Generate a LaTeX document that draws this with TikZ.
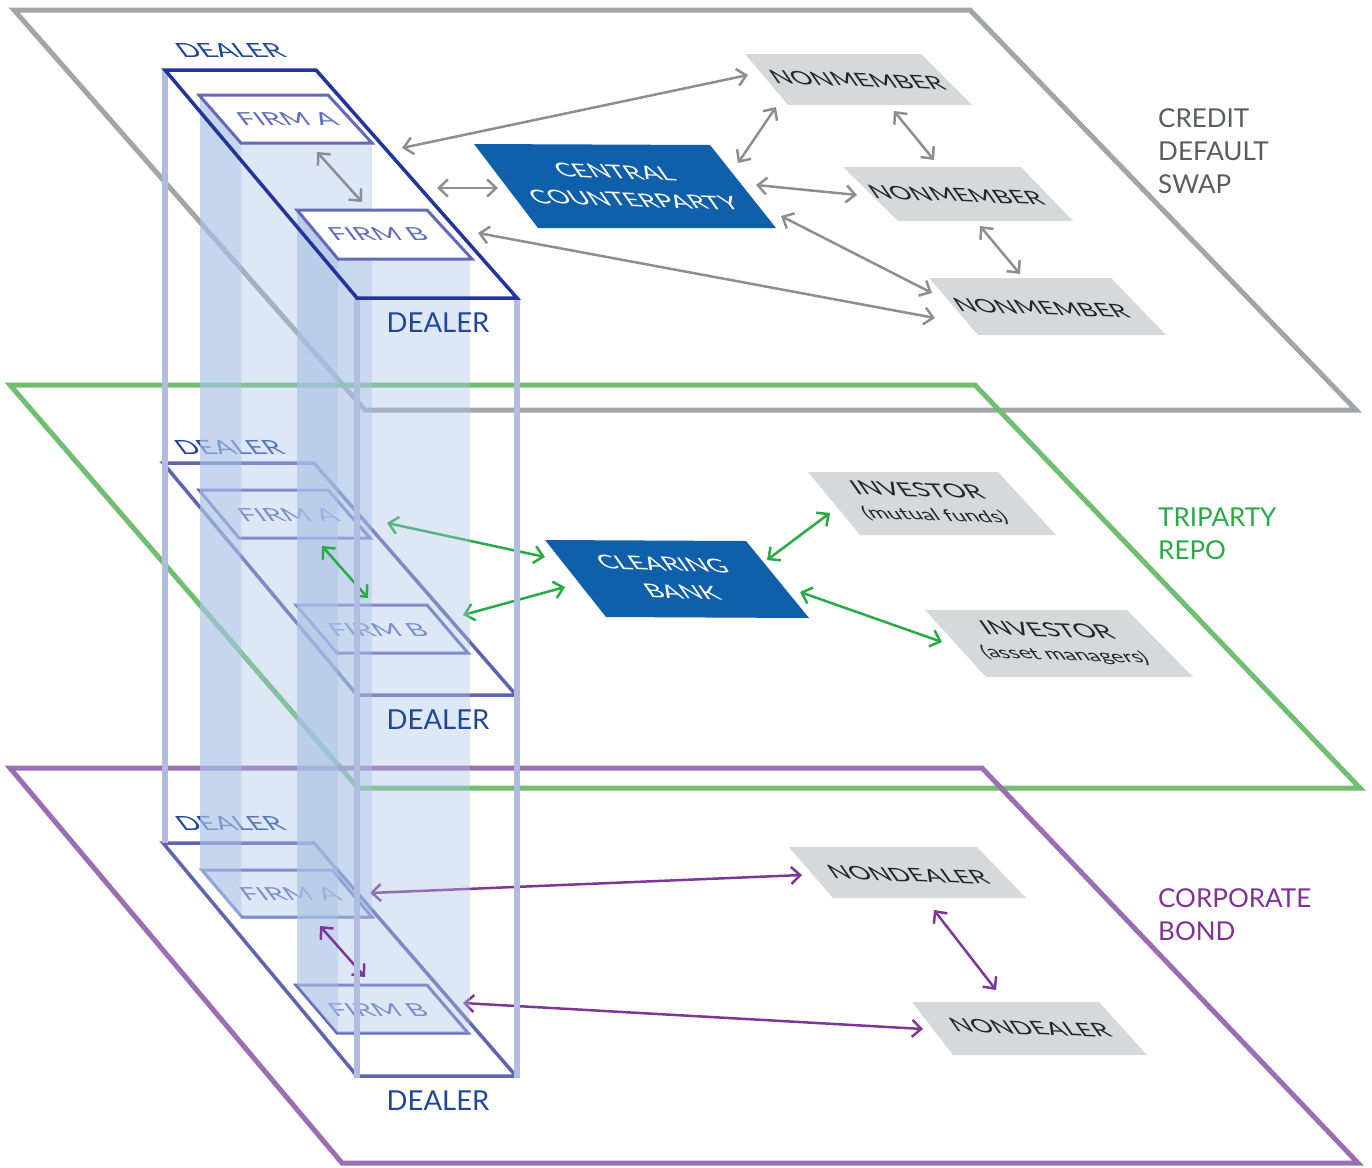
\documentclass[tikz,border=0pt]{standalone}
\usepackage{fontspec}
\setmainfont{Lato}
\usetikzlibrary{arrows.meta}
\definecolor{planegray}{RGB}{162,164,168}
\definecolor{planegreen}{RGB}{112,190,112}
\definecolor{planepurple}{RGB}{155,110,180}
\definecolor{navyedge}{RGB}{35,52,154}
\definecolor{dealerblue}{RGB}{95,100,175}
\definecolor{firmblue}{RGB}{100,105,185}
\definecolor{firmtxt}{RGB}{95,110,190}
\definecolor{labelblue}{RGB}{30,70,158}
\definecolor{colblue}{RGB}{170,195,230}
\definecolor{vline}{RGB}{178,188,224}
\definecolor{boxgray}{RGB}{215,216,218}
\definecolor{ccpblue}{RGB}{15,95,171}
\definecolor{arrgray}{RGB}{140,142,146}
\definecolor{arrgreen}{RGB}{40,170,70}
\definecolor{arrpurple}{RGB}{125,55,150}
\definecolor{txtgray}{RGB}{90,92,98}
\definecolor{txtgreen}{RGB}{40,170,70}
\definecolor{txtpurple}{RGB}{130,50,150}
\tikzset{barb/.tip={Straight Barb[length=9pt,width=17pt]}}
\newcommand\ptext[6]{\begin{scope}[shift={(#1,#2)},#3]\node[transform shape,inner sep=0pt,align=center,#5] (#4) at (0,0) {#6};\end{scope}}
\begin{document}
\begin{tikzpicture}[x=1pt,y=-1pt,
  plane/.style={line width=5pt,line join=miter},
  dealeredge/.style={line width=3.5pt,line join=miter},
  firmbox/.style={draw=firmblue,line width=3pt,fill=white,line join=miter},
  colleft/.style={fill=colblue,fill opacity=0.68},
  colfront/.style={fill=colblue,fill opacity=0.4},
  vertline/.style={draw=vline,line width=5.5pt},
  graybox/.style={fill=boxgray},
  bluebox/.style={fill=ccpblue},
  onplane/.style={xslant=-0.75,yscale=0.7},
  firmplane/.style={xslant=-0.75,yscale=0.62},
  boxtext/.style={text=black!85,font=\fontsize{26}{36}\selectfont},
  whitetext/.style={text=white,font=\fontsize{26.5}{39}\selectfont},
  firmtext/.style={text=firmtxt,font=\fontsize{29}{36}\selectfont},
  dealertop/.style={text=labelblue,font=\fontsize{28}{36}\selectfont},
  dealerlabel/.style={text=labelblue,font=\fontsize{27.5}{33}\selectfont,anchor=base,inner sep=0pt},
  sidelabel/.style={font=\fontsize{26}{33}\selectfont,anchor=north west,align=left,inner sep=0pt},
  link/.style={line width=2.5pt,arrows={barb-barb}},
]
\fill[white] (0,0) rectangle (1372,1167);
\useasboundingbox (0,0) rectangle (1372,1167);

% ---------- planes ----------
\draw[plane,planegray] (14,10) -- (970,10) -- (1356,410) -- (365,410) -- cycle;
\draw[plane,planegreen] (10,385) -- (975,385) -- (1360,788) -- (358,788) -- cycle;
\draw[plane,planepurple] (10,768) -- (982,768) -- (1358,1163) -- (342,1163) -- cycle;

% ---------- level 2 (triparty repo) dealer ----------
\draw[dealeredge,dealerblue] (163,463) -- (314,463) -- (516,695) -- (357,695) -- cycle;
\draw[firmbox] (199,490) -- (328,490) -- (370,538) -- (239,538) -- cycle;
\draw[firmbox] (296,605) -- (427,605) -- (468,653) -- (337,653) -- cycle;
\ptext{229}{447}{onplane}{d2top}{dealertop}{DEALER}
\ptext{288}{515}{firmplane}{f2a}{firmtext}{FIRM A}
\ptext{378}{630}{firmplane}{f2b}{firmtext}{FIRM B}

% ---------- level 3 (corporate bond) dealer ----------
\draw[dealeredge,dealerblue] (163,843) -- (314,843) -- (516,1076) -- (357,1076) -- cycle;
\draw[firmbox] (202,870) -- (332,870) -- (372,917) -- (242,917) -- cycle;
\draw[firmbox] (296,985) -- (427,985) -- (468,1033) -- (337,1033) -- cycle;
\ptext{230}{823}{onplane}{d3top}{dealertop}{DEALER}
\ptext{290}{894}{firmplane}{f3a}{firmtext}{FIRM A}
\ptext{378}{1010}{firmplane}{f3b}{firmtext}{FIRM B}

% ---------- triparty boxes ----------
\fill[bluebox] (545,540) -- (746,541) -- (809,618) -- (606,617) -- cycle;
\ptext{672}{578}{rotate=-2,onplane}{cb}{whitetext}{CLEARING\\BANK}
\fill[graybox] (808,472) -- (998,472) -- (1056,535) -- (860,535) -- cycle;
\ptext{926}{503}{rotate=-2,onplane}{inv1}{boxtext,font=\fontsize{27}{33}\selectfont}{INVESTOR\\{\fontsize{23}{33}\selectfont(mutual funds)}}
\fill[graybox] (925,610) -- (1127,610) -- (1193,677) -- (986,677) -- cycle;
\ptext{1056}{643}{rotate=-2,onplane}{inv2}{boxtext,font=\fontsize{27}{33}\selectfont}{INVESTOR\\{\fontsize{23}{33}\selectfont(asset managers)}}

% ---------- corporate bond boxes ----------
\fill[graybox] (789,847) -- (977,847) -- (1026,898) -- (833,898) -- cycle;
\ptext{908}{875}{rotate=-2,onplane}{nd1}{boxtext}{NONDEALER}
\fill[graybox] (912,1002) -- (1099,1002) -- (1147,1055) -- (953,1055) -- cycle;
\ptext{1030}{1028}{rotate=-2,onplane}{nd2}{boxtext}{NONDEALER}

% ---------- connectors, levels 2 and 3 ----------
\coordinate (f2aR) at (387,523); \coordinate (cbL1) at (545,557);
\coordinate (f2bR) at (463,615); \coordinate (cbL2) at (565,587);
\coordinate (cbR1) at (767,560); \coordinate (inv1L) at (830,513);
\coordinate (cbR2) at (800,592); \coordinate (inv2L) at (942,642);
\draw[link,arrgreen] (f2aR) -- (cbL1);
\draw[link,arrgreen] (f2bR) -- (cbL2);
\draw[link,arrgreen] (cbR1) -- (inv1L);
\draw[link,arrgreen] (cbR2) -- (inv2L);
\coordinate (f3aR) at (370,893); \coordinate (nd1L) at (802,875);
\coordinate (f3bR) at (463,1003); \coordinate (nd2L) at (923,1029);
\coordinate (nd1B) at (934,910); \coordinate (nd2T) at (996,990);
\draw[link,arrpurple] (f3aR) -- (nd1L);
\draw[link,arrpurple] (f3bR) -- (nd2L);
\draw[link,arrpurple] (nd1B) -- (nd2T);

% ---------- translucent columns ----------
\fill[colleft] (200,95) -- (241,143) -- (241,918) -- (200,870) -- cycle;
\fill[colfront] (241,143) -- (372,143) -- (372,918) -- (241,918) -- cycle;
\fill[colleft] (297,210) -- (338,259) -- (338,1033) -- (297,985) -- cycle;
\fill[colfront] (338,259) -- (470,259) -- (470,1033) -- (338,1033) -- cycle;

% firm-to-firm links inside the columns
\coordinate (f2aB) at (322,546); \coordinate (f2bT) at (368,598);
\draw[link,arrgreen] (f2aB) -- (f2bT);
\coordinate (f3aB) at (320,926); \coordinate (f3bT) at (365,977);
\draw[link,arrpurple] (f3aB) -- (f3bT);

% ---------- dealer vertical edges ----------
\draw[vertline] (165,70) -- (165,843);
\draw[vertline] (357,298) -- (357,1078);
\draw[vertline] (517,298) -- (517,1078);

% ---------- level 1 (credit default swap) dealer ----------
\draw[dealeredge,navyedge] (165,70) -- (316,70) -- (517,298) -- (357,298) -- cycle;
\draw[firmbox] (199,95) -- (328,95) -- (372,143) -- (241,143) -- cycle;
\draw[firmbox] (297,210) -- (427,210) -- (472,259) -- (338,259) -- cycle;
\ptext{230}{50}{onplane}{d1top}{dealertop}{DEALER}
\ptext{287}{119}{firmplane}{f1a}{firmtext}{FIRM A}
\ptext{378}{234}{firmplane}{f1b}{firmtext}{FIRM B}

% bottom dealer labels
\node[dealerlabel] (d1) at (438,332) {DEALER};
\node[dealerlabel] (d2) at (438,729) {DEALER};
\node[dealerlabel] (d3) at (438,1110) {DEALER};

% ---------- CDS boxes ----------
\fill[bluebox] (474,144) -- (710,145) -- (776,228) -- (538,228) -- cycle;
\ptext{624}{186}{rotate=-2,onplane}{ccp}{whitetext}{CENTRAL\\COUNTERPARTY}
\fill[graybox] (745,54) -- (921,54) -- (972,105) -- (788,105) -- cycle;
\ptext{857}{80}{rotate=-2,onplane}{nm1}{boxtext}{NONMEMBER}
\fill[graybox] (843,167) -- (1021,167) -- (1073,221) -- (898,221) -- cycle;
\ptext{956}{195}{rotate=-2,onplane}{nm2}{boxtext}{NONMEMBER}
\fill[graybox] (929,278) -- (1111,278) -- (1166,335) -- (978,335) -- cycle;
\ptext{1041}{308}{rotate=-2,onplane}{nm3}{boxtext}{NONMEMBER}

% ---------- CDS connectors ----------
\coordinate (d1R1) at (402,148); \coordinate (nm1L) at (748,75);
\coordinate (d1R2) at (437,188); \coordinate (ccpL) at (498,188);
\coordinate (f1aB) at (317,152); \coordinate (f1bT) at (362,202);
\coordinate (f1bR) at (478,233); \coordinate (nm3L) at (935,318);
\coordinate (ccpT) at (738,163); \coordinate (nm1B) at (776,107);
\coordinate (ccpR) at (756,185); \coordinate (nm2L) at (857,195);
\coordinate (ccpB) at (781,216); \coordinate (nm3T) at (932,293);
\coordinate (nm1R) at (894,111); \coordinate (nm2T) at (934,160);
\coordinate (nm2B) at (980,226); \coordinate (nm3U) at (1020,274);
\draw[link,arrgray] (d1R1) -- (nm1L);
\draw[link,arrgray] (d1R2) -- (ccpL);
\draw[link,arrgray] (f1aB) -- (f1bT);
\draw[link,arrgray] (f1bR) -- (nm3L);
\draw[link,arrgray] (ccpT) -- (nm1B);
\draw[link,arrgray] (ccpR) -- (nm2L);
\draw[link,arrgray] (ccpB) -- (nm3T);
\draw[link,arrgray] (nm1R) -- (nm2T);
\draw[link,arrgray] (nm2B) -- (nm3U);

% ---------- side labels ----------
\node[sidelabel,text=txtgray] (cds) at (1158,108) {CREDIT\\DEFAULT\\SWAP};
\node[sidelabel,text=txtgreen] (repo) at (1158,508) {TRIPARTY\\REPO};
\node[sidelabel,text=txtpurple] (bond) at (1158,888) {CORPORATE\\BOND};
\end{tikzpicture}
\end{document}
